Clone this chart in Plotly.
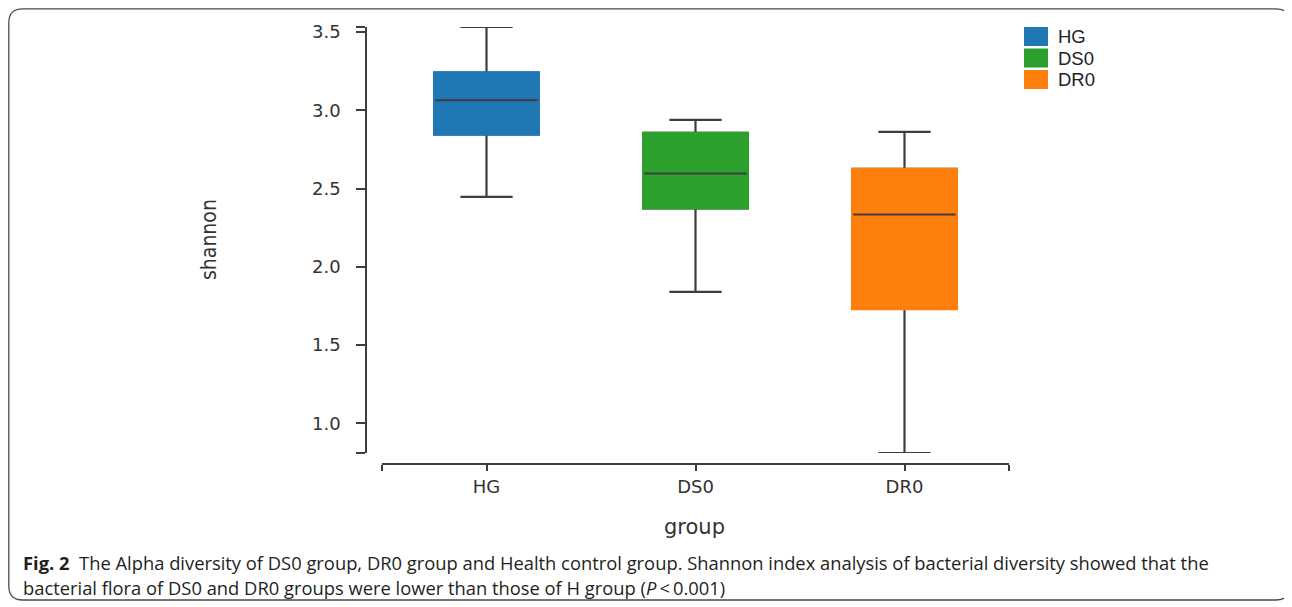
import plotly.graph_objects as go

# ---------------- data ----------------
groups = ["HG", "DS0", "DR0"]
q1 = [2.845, 2.373, 1.730]
median = [3.064, 2.596, 2.334]
q3 = [3.241, 2.855, 2.625]
lower = [2.447, 1.840, 0.810]
upper = [3.532, 2.938, 2.862]
colors = ["#1f77b4", "#2ca02c", "#ff7f0e"]
y_ticks = [1.0, 1.5, 2.0, 2.5, 3.0, 3.5]
y_title = "shannon"
x_title = "group"
caption1 = "<b>Fig. 2</b>\u00a0\u00a0The Alpha diversity of DS0 group, DR0 group and Health control group. Shannon index analysis of bacterial diversity showed that the"
caption2 = "bacterial flora of DS0 and DR0 groups were lower than those of H group (<i>P</i>\u2009&lt;\u20090.001)"

# ---------------- layout geometry (window pixels) ----------------
OFF = 8  # page body margin in the browser
WINW, WINH = 1292, 607
FW, FH = WINW - OFF, WINH - OFF
L, R, T, B = 366, 1009, 27, 464  # plot area in window pixels
W, H = R - L, B - T


def px(xp):
    return (xp - L) / W


def py(yp):
    return (B - yp) / H


DARK = "#3d3d3d"
pos = list(range(len(groups)))
ymin, ymax = min(lower), max(upper)

fig = go.Figure()
for i, g in enumerate(groups):
    # full box with whiskers (dark lines)
    fig.add_trace(go.Box(
        x=[pos[i]], q1=[q1[i]], median=[median[i]], q3=[q3[i]],
        lowerfence=[lower[i]], upperfence=[upper[i]],
        fillcolor=colors[i], line=dict(color=DARK, width=2.2),
        width=0.5, whiskerwidth=0.5, boxpoints=False,
        showlegend=False, name=g, hoverinfo="skip"))
    # cover box outline with fill colour
    fig.add_trace(go.Box(
        x=[pos[i]], q1=[q1[i]], median=[q1[i]], q3=[q3[i]],
        lowerfence=[q1[i]], upperfence=[q3[i]],
        fillcolor=colors[i], line=dict(color=colors[i], width=2.4),
        width=0.5, whiskerwidth=0, boxpoints=False,
        showlegend=False, name=g, hoverinfo="skip"))
    # median line
    fig.add_trace(go.Box(
        x=[pos[i]], q1=[median[i]], median=[median[i]], q3=[median[i]],
        lowerfence=[median[i]], upperfence=[median[i]],
        fillcolor=colors[i], line=dict(color=DARK, width=2),
        width=0.49, whiskerwidth=0, boxpoints=False,
        showlegend=False, name=g, hoverinfo="skip"))

shapes = []
annotations = []

# legend
leg_top = [27, 48.5, 70]
for i, g in enumerate(groups):
    shapes.append(dict(type="rect", xref="paper", yref="paper",
                       x0=px(1024), x1=px(1048), y0=py(leg_top[i]), y1=py(leg_top[i] + 19),
                       fillcolor=colors[i], line=dict(width=0)))
    annotations.append(dict(xref="paper", yref="paper", x=px(1056), y=py(leg_top[i] + 9.5),
                            xanchor="left", yanchor="middle", showarrow=False, text=g,
                            font=dict(family="Liberation Sans, Arial, sans-serif", size=18.5, color="#222")))

# axis titles
annotations.append(dict(xref="paper", yref="paper", x=px(209), y=py(240), text=y_title,
                        textangle=-90, showarrow=False, xanchor="center", yanchor="middle",
                        font=dict(family="Liberation Sans Narrow, DejaVu Sans Condensed, Arial Narrow, sans-serif",
                                  size=21, color="#333")))
annotations.append(dict(xref="paper", yref="paper", x=px(694), y=py(527), text=x_title,
                        showarrow=False, xanchor="center", yanchor="middle",
                        font=dict(family="DejaVu Sans, Verdana, sans-serif", size=21, color="#333")))

# caption
cap_font = dict(family="Open Sans, Noto Sans, sans-serif", size=18.35, color="#231f20")
annotations.append(dict(xref="paper", yref="paper", x=px(21), y=py(562), text=caption1,
                        showarrow=False, xanchor="left", yanchor="middle", font=cap_font))
annotations.append(dict(xref="paper", yref="paper", x=px(21), y=py(587), text=caption2,
                        showarrow=False, xanchor="left", yanchor="middle", font=cap_font))

# rounded frame
fl, fr, ft, fb, rr = OFF + 0.8, 1290, OFF + 0.8, 600, 14
path = (f"M {px(fl + rr)} {py(ft)} L {px(fr - rr)} {py(ft)} "
        f"Q {px(fr)} {py(ft)} {px(fr)} {py(ft + rr)} L {px(fr)} {py(fb - rr)} "
        f"Q {px(fr)} {py(fb)} {px(fr - rr)} {py(fb)} L {px(fl + rr)} {py(fb)} "
        f"Q {px(fl)} {py(fb)} {px(fl)} {py(fb - rr)} L {px(fl)} {py(ft + rr)} "
        f"Q {px(fl)} {py(ft)} {px(fl + rr)} {py(ft)} Z")
shapes.append(dict(type="path", xref="paper", yref="paper", path=path,
                   line=dict(color="#4a4a4a", width=1.3)))

tick_font = dict(family="DejaVu Sans, Verdana, sans-serif", size=18, color="#333")

fig.update_layout(
    width=FW, height=FH,
    margin=dict(l=L - OFF, r=WINW - R, t=T - OFF, b=WINH - B, pad=0),
    paper_bgcolor="white", plot_bgcolor="white",
    boxmode="overlay",
    showlegend=False,
    shapes=shapes,
    annotations=annotations,
    xaxis=dict(
        domain=[px(382), 1], anchor="free", position=0,
        range=[-0.5, len(groups) - 0.5],
        tickmode="array",
        tickvals=[-0.5] + pos + [len(groups) - 0.5],
        ticktext=[""] + groups + [""],
        showline=True, linecolor=DARK, linewidth=1.5,
        ticks="outside", ticklen=6, tickwidth=1.5, tickcolor=DARK,
        showgrid=False, zeroline=False, tickfont=tick_font,
        ticklabelstandoff=1,
    ),
    yaxis=dict(
        domain=[py(453), 1], anchor="free", position=0,
        range=[ymin, ymax],
        tickmode="array",
        tickvals=[ymin] + y_ticks + [ymax],
        ticktext=[""] + [f"{v:.1f}" for v in y_ticks] + [""],
        showline=True, linecolor=DARK, linewidth=1.5,
        ticks="outside", ticklen=9, tickwidth=1.5, tickcolor=DARK,
        showgrid=False, zeroline=False, tickfont=tick_font,
        ticklabelstandoff=12,
    ),
)

fig.write_html("out.html", config={"displayModeBar": False})
